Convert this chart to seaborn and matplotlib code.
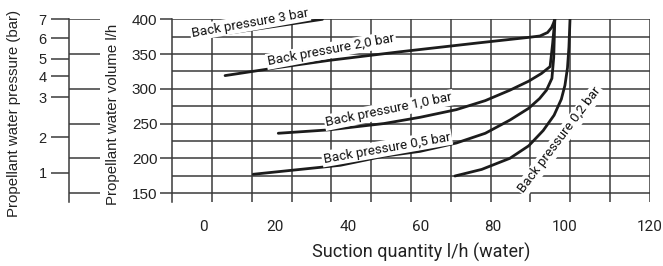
import numpy as np
import pandas as pd
import matplotlib
matplotlib.use("Agg")
import matplotlib.pyplot as plt
import seaborn as sns

# Suction quantity (l/h water) vs propellant water volume (l/h), one curve per back pressure
bp3_x = [3.3, 33.0]
bp3_y = [377, 400]
bp20_x = [6.1, 20, 35, 54, 76, 90, 93.1, 95.2, 96.3, 96.8, 97.2]
bp20_y = [319, 330, 341, 353, 366, 374, 376, 381, 388, 394, 400]
bp10_x = [20.8, 35, 50, 60, 70, 78, 84.8, 90, 93.5, 95.9, 96.6, 97.2]
bp10_y = [236, 241, 250, 259, 270, 283, 298, 311, 322, 332, 365, 400]
bp05_x = [13.9, 25, 38, 50, 60, 70, 78, 84.8, 90, 93, 94.9, 96.4, 96.9, 97.2]
bp05_y = [177, 183, 190, 203, 210, 222, 236, 255, 272, 286, 298, 315, 345, 400]
bp02_x = [69.6, 77, 84.8, 90, 94, 97, 99, 100, 100.7, 101.1, 101.4]
bp02_y = [174.5, 184, 200, 218, 240, 262, 285, 305, 330, 360, 400]

curve_names = ["Back pressure 3 bar", "Back pressure 2,0 bar", "Back pressure 1,0 bar",
               "Back pressure 0,5 bar", "Back pressure 0,2 bar"]

# left scale: propellant pressure (bar) placed against the volume scale
press_bar = [1, 2, 3, 4, 5, 6, 7]
press_vol = [179, 230, 288, 318, 343, 373, 400]

vol_ticks = [150, 200, 250, 300, 350, 400]
suction_ticks = [0, 20, 40, 60, 80, 100, 120]

W, H = 663, 266
XMIN, XMAX = -8.56, 123.5
YMIN, YMAX = 137.1, 400
LINE = "#1c1c1c"
GRID = "#3a3a3a"

rows = []
for name, xs, ys in zip(curve_names, [bp3_x, bp20_x, bp10_x, bp05_x, bp02_x],
                        [bp3_y, bp20_y, bp10_y, bp05_y, bp02_y]):
    for x, y in zip(xs, ys):
        rows.append({"suction": x, "volume": y, "curve": name})
df = pd.DataFrame(rows)

sns.set_theme(style="white")
plt.rcParams["font.family"] = ["Liberation Sans", "DejaVu Sans"]

fig = plt.figure(figsize=(W / 100, H / 100), dpi=100)
left, right, top, bottom = 172 / W, 650 / W, 1 - 19.3 / H, 1 - 202 / H
ax = fig.add_axes([left, bottom, right - left, top - bottom])
ax.set_xlim(XMIN, XMAX)
ax.set_ylim(YMIN, YMAX)

# grid
grid_x = np.linspace(XMIN, XMAX, 13)
ax.vlines(grid_x[1:], YMIN, YMAX, color=GRID, lw=1.1, zorder=1)
ax.hlines(np.arange(150, 401, 25), XMIN, XMAX, color=GRID, lw=1.1, zorder=1)

sns.lineplot(data=df, x="suction", y="volume", units="curve", estimator=None,
             sort=False, color=LINE, lw=2.0, ax=ax, legend=False, zorder=3)
for line in ax.lines:
    line.set_solid_joinstyle("round")
    line.set_solid_capstyle("round")

# curve labels
label_pos = [(13.0, 394.7, 10), (35.4, 355.8, 10.5), (51.4, 269.5, 11.5),
             (50.8, 214.8, 10), (98.6, 226.3, 53)]
for name, (lx, ly, rot) in zip(curve_names, label_pos):
    ax.text(lx, ly, name, rotation=rot, rotation_mode="anchor", ha="center", va="center",
            fontsize=9.6, family=["Roboto", "DejaVu Sans"], color="#111111", zorder=4,
            bbox=dict(fc="white", ec="none", pad=1.2))

for sp in ["top", "right", "bottom"]:
    ax.spines[sp].set_visible(False)
ax.spines["left"].set_color(GRID)
ax.spines["left"].set_linewidth(1.1)
ax.set_yticks(vol_ticks)
ax.set_yticklabels([str(v) for v in vol_ticks], fontsize=11, color="#222222")
ax.tick_params(axis="y", left=True, direction="out", length=8.6, width=1.1, color=GRID, pad=2)

xtick_pos = suction_ticks[:-1] + [XMAX]
ax.set_xticks(xtick_pos)
ax.set_xticklabels([str(v) for v in suction_ticks], fontsize=11, color="#222222",
                   family=["Roboto", "DejaVu Sans"])
ax.tick_params(axis="x", bottom=False, length=0, pad=13)
ax.set_xlabel("")
ax.set_ylabel("")

# pressure scale
ax2 = fig.add_axes([69 / W, bottom, 31 / W, top - bottom])
ax2.set_xlim(0, 1)
ax2.set_ylim(YMIN, YMAX)
ax2.hlines(vol_ticks, 0, 1, color=GRID, lw=1.1)
for sp in ["top", "right", "bottom"]:
    ax2.spines[sp].set_visible(False)
ax2.spines["left"].set_color(GRID)
ax2.spines["left"].set_linewidth(1.1)
ax2.set_xticks([])
ax2.set_yticks(press_vol)
ax2.set_yticklabels([str(p) for p in press_bar], fontsize=10.5, color="#222222")
ax2.tick_params(axis="y", left=True, direction="out", length=13, width=1.1, color=GRID, pad=3)
ax2.patch.set_alpha(0)

fig.text(421 / W, 1 - 252 / H, "Suction quantity l/h (water)", ha="center", va="center",
         fontsize=13, family=["Roboto", "DejaVu Sans"], color="#222222")
fig.text(113 / W, 1 - 114 / H, "Propellant water volume l/h", ha="center", va="center",
         rotation=90, fontsize=10.8, color="#222222")
fig.text(14 / W, 1 - 113 / H, "Propellant water pressure (bar)", ha="center", va="center",
         rotation=90, fontsize=10.8, color="#222222")

fig.savefig("out.png", dpi=100)
